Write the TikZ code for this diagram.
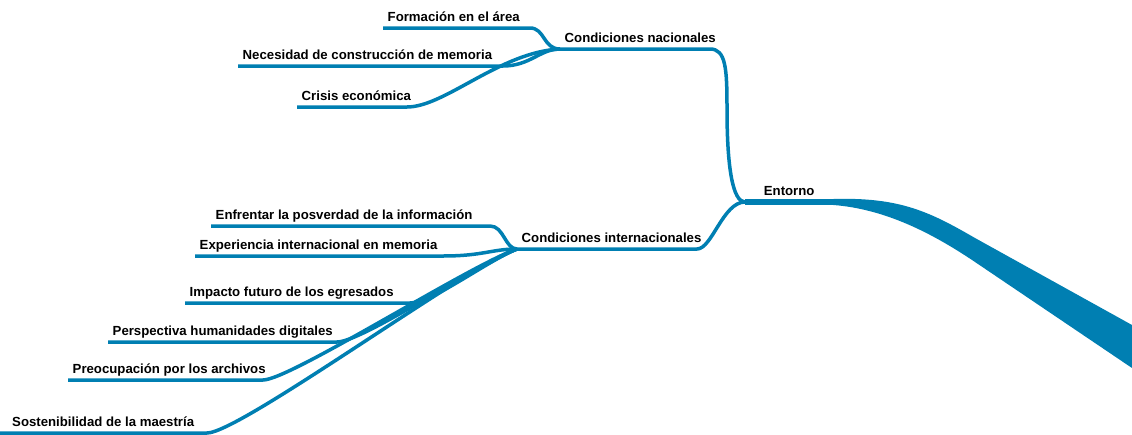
\documentclass[tikz,border=0pt]{standalone}
\usepackage{fontspec}
\setmainfont{Liberation Sans}
\definecolor{mapblue}{RGB}{0,127,178}
\tikzset{
  topic/.style={anchor=south west, inner xsep=4.5pt, inner ysep=1.5pt,
    text depth=5pt, font=\fontsize{13.2}{15}\selectfont\bfseries},
  branch/.style={draw=mapblue, line width=3.5pt},
  trunk/.style={fill=mapblue}
}
\begin{document}
\begin{tikzpicture}[x=1pt,y=-1pt]
      \useasboundingbox (0,0) rectangle (1132,434);
      \draw
        (745,202) node[topic, minimum width=88pt, inner xsep=0pt] (en){Entorno}
        (560,49) node[topic] (cn){Condiciones nacionales}
        (517,249) node[topic] (ci){Condiciones internacionales}
        (383,28) node[topic] (fa){Formación en el área}
        (238,66) node[topic] (ne){Necesidad de construcción de memoria}
        (297,107) node[topic] (cr){Crisis económica}
        (211,226) node[topic] (ef){Enfrentar la posverdad de la información}
        (195,256) node[topic] (ex){Experiencia internacional en memoria}
        (185,303) node[topic] (im){Impacto futuro de los egresados}
        (108,342) node[topic] (pe){Perspectiva humanidades digitales}
        (68,380) node[topic] (pr){Preocupación por los archivos}
        (0,433) node[topic, inner xsep=12pt] (so){Sostenibilidad de la maestría};
      \coordinate (root) at (1132,346);
      \begin{scope}[branch]
        \draw[line width=6pt] (en.south west) -- ++(89,0);
        \draw (cn.south west) -- ++(150,0) .. controls +(16,0) and +(0,-40) .. ++(17,60)
          .. controls +(0,60) and +(-12,0) .. (en.south west);
        \draw (ci.south west) -- ++(180,0) .. controls +(15,0) and +(-22,0) .. (en.south west);
        \draw (fa.south west) -- ++(147,0) .. controls +(15,0) and +(-17,0) .. (cn.south west);
        \draw (ne.south west) -- ++(265,0) .. controls +(27,0) and +(-20,0) .. (cn.south west);
        \draw (cr.south west) -- ++(110,0) .. controls +(38,0) and +(-60,3) .. (cn.south west);
        \draw (ef.south west) -- ++(279,0) .. controls +(14,0) and +(-12,0) .. (ci.south west);
        \draw (ex.south west) -- ++(248,0) .. controls +(40,0) and +(-25,0) .. (ci.south west);
        \draw (im.south west) -- ++(225,0) .. controls +(22,0) and +(-30,12) .. (ci.south west);
        \draw (pe.south west) -- ++(229,0) .. controls +(25,0) and +(-40,16) .. (ci.south west);
        \draw (pr.south west) -- ++(195,0) .. controls +(27,0) and +(-47,16) .. (ci.south west);
        \draw (so.south west) -- ++(207,0) .. controls +(33,0) and +(-47,15) .. (ci.south west);
      \end{scope}
      \fill[trunk] ([yshift=3pt]en.south east) .. controls (900,197) and (930,212) .. (975,238)
        -- (root |- 0,325) -- (root |- 0,368) -- (975,262)
        .. controls (932,233) and (885,209) .. ([yshift=-3pt]en.south east) -- cycle;
    \end{tikzpicture}
\end{document}
